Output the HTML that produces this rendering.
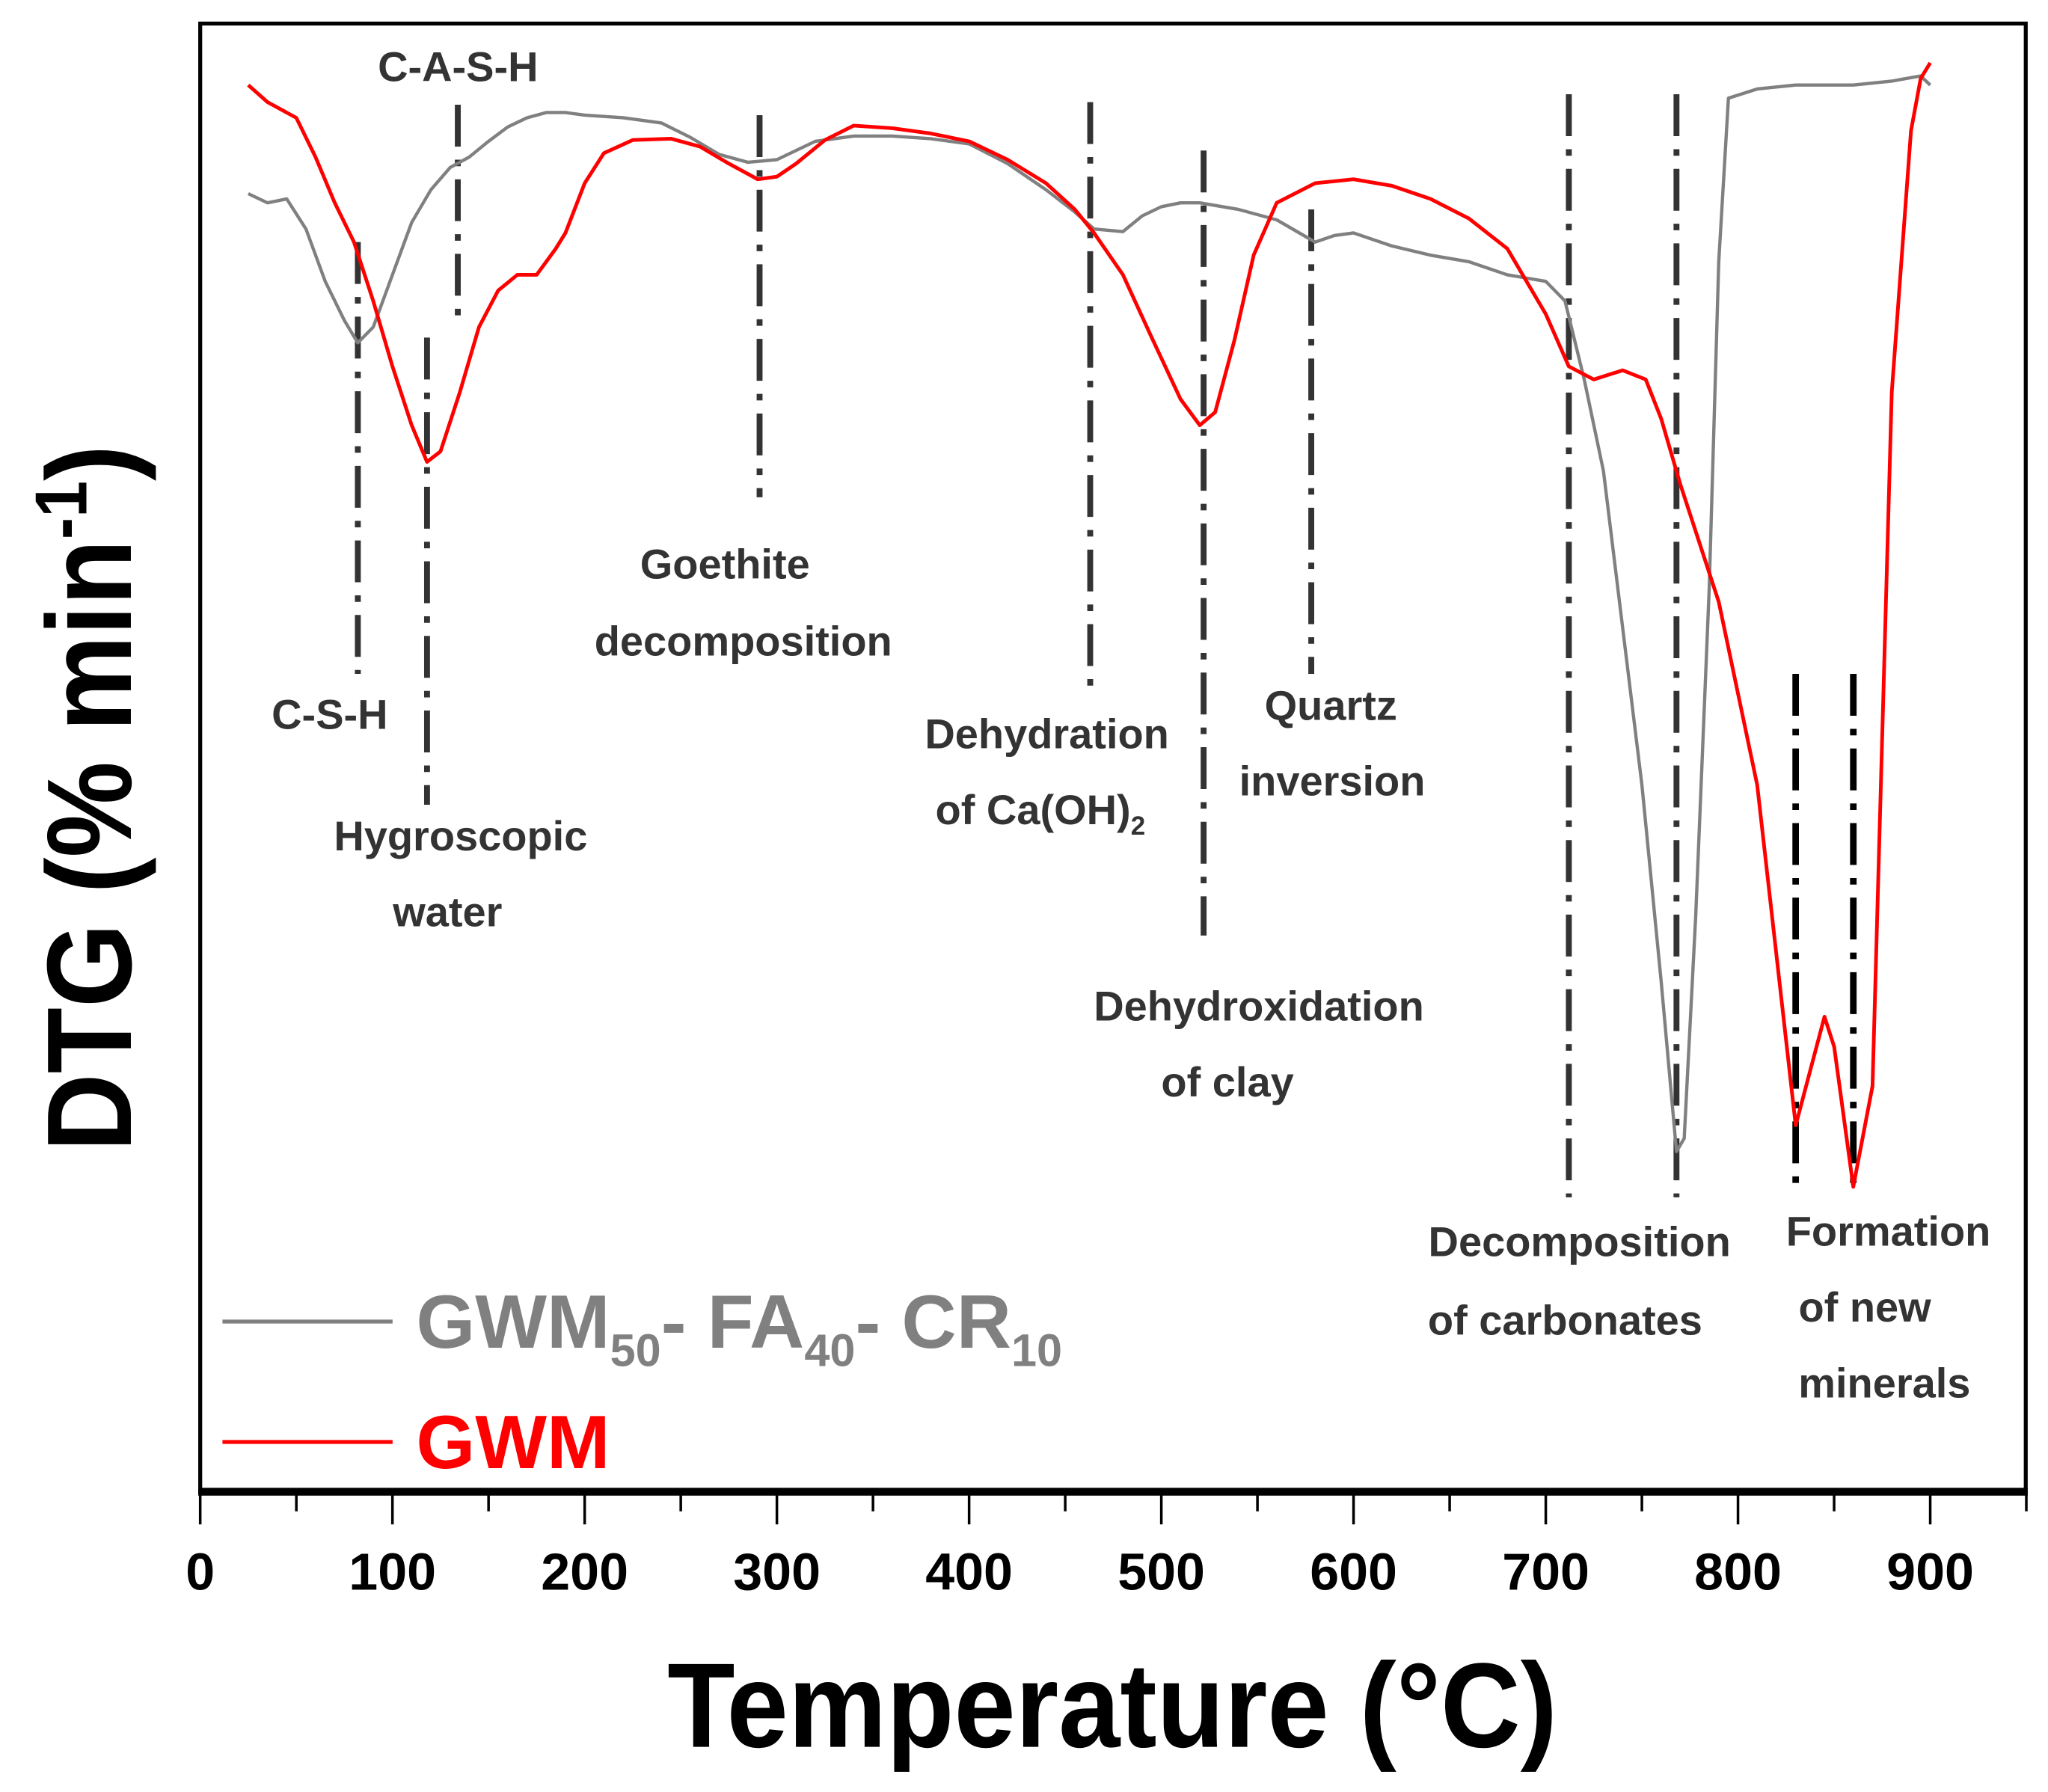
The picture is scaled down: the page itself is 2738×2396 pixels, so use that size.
<!DOCTYPE html>
<html><head><meta charset="utf-8"><style>
html,body{margin:0;padding:0;background:#fff}
svg{display:block}
text{font-family:"Liberation Sans",Arial,sans-serif;font-weight:bold}
</style></head><body>
<svg id="chart" width="2738" height="2396" viewBox="0 0 1565 1369.5" xmlns="http://www.w3.org/2000/svg">
<g id="plot"></g>
</svg>
<script>
const xTicks = [0,100,200,300,400,500,600,700,800,900];
const xMinor = [50,150,250,350,450,550,650,750,850,950];
const grayT = [25,35,45,55,65,75,82,90,100,110,120,130,140,150,160,170,180,190,200,220,240,255,270,285,300,320,340,360,380,400,420,440,455,465,480,490,500,510,520,540,560,580,590,600,620,640,660,680,700,710,720,730,740,750,760,768,772,778,785,790,795,810,830,860,880,895,900];
const grayV = [99.2,98.5,98.8,96.5,92.5,89.5,87.8,89,93,97,99.5,101.2,102,103.2,104.3,105,105.4,105.4,105.2,105,104.6,103.5,102.2,101.6,101.8,103.2,103.6,103.6,103.4,103,101.5,99.5,97.8,96.5,96.3,97.5,98.2,98.5,98.5,98,97.2,95.5,96,96.2,95.2,94.5,94,93,92.5,91,85,78,66,54,39,26,27,44,69,94,106.5,107.2,107.5,107.5,107.8,108.2,107.5];
const redT = [25,35,50,60,70,80,90,100,110,118,125,135,145,155,165,175,185,190,200,210,225,245,260,275,290,300,310,325,340,360,380,400,420,440,455,465,480,495,510,520,528,538,548,560,580,600,620,640,660,680,700,712,725,740,752,760,770,790,810,830,845,850,860,870,880,890,895,900];
const redV = [107.5,106.2,105,102,98.5,95.5,91,86,81.5,78.7,79.5,84,89,91.8,93,93,95,96.2,100,102.3,103.3,103.4,102.8,101.5,100.3,100.5,101.5,103.3,104.4,104.2,103.8,103.2,101.8,100,98,96.2,93,88.2,83.5,81.5,82.5,88,94.5,98.5,100,100.3,99.8,98.8,97.3,95,90,86,85,85.7,85,82,77,68,54,28,36.3,34,23.3,31,84,104,108,109.2];
const markerT = [82,118,134,291,463,522,578,712,768,830,860];
const markerTop = [95.5,88.2,106,105.2,106.2,102.5,98,106.8,106.8,62.5,62.5];
const markerBot = [62.5,52.5,89,76,61,42.5,62.5,22.5,22.5,23.5,23.5];

const L=153,R=1548,T=18,B=1140;
function xs(t){return 153 + t*(1475-153)/900;}
function ys(v){return B - v*10;}
const NS="http://www.w3.org/2000/svg";
const svg=document.getElementById('chart');
function mk(tag,attrs,parent){const e=document.createElementNS(NS,tag);for(const k in attrs)e.setAttribute(k,attrs[k]);(parent||svg).appendChild(e);return e;}

let fr=mk('rect',{x:L,y:T,width:R-L,height:B-T,fill:'none',stroke:'#000','stroke-width':3});


let xa=mk('line',{x1:L-1.5,y1:B,x2:R+1.5,y2:B,stroke:'#000','stroke-width':6});



xTicks.forEach(t=>{
  let l=mk('line',{x1:xs(t),y1:B,x2:xs(t),y2:B+25,stroke:'#000','stroke-width':2});
  
  
  let tx=mk('text',{x:xs(t),y:1215,'text-anchor':'middle','font-size':40,fill:'#000'});
  tx.textContent=t;
  
  
});
xMinor.forEach(t=>{
  let l=mk('line',{x1:xs(t),y1:B,x2:xs(t),y2:B+15,stroke:'#000','stroke-width':2});
  
  
});

markerT.forEach((t,i)=>{
  const dark = t>=830;
  let l=mk('line',{x1:xs(t),y1:ys(markerTop[i]),x2:xs(t),y2:ys(markerBot[i]),stroke:dark?'#000':'#333','stroke-width':dark?5:4.5,'stroke-dasharray':'32 10 5 10'});
  
  
});

function path(ts,vs,color,w,name){
  let d=ts.map((t,i)=>(i?'L':'M')+xs(t).toFixed(1)+' '+ys(vs[i]).toFixed(1)).join(' ');
  let p=mk('path',{d:d,fill:'none',stroke:color,'stroke-width':w,'stroke-linejoin':'round'});
  
  
}
path(grayT,grayV,'#808080',2.5,'gwm50-fa40-cr10-series');
path(redT,redV,'#ff0000',2.8,'gwm-series');

const ann=[
 ['C-A-S-H',350,62,'label-c-a-s-h'],
 ['C-S-H',252,557,'label-c-s-h'],
 ['Hygroscopic',352,650,'label-hygroscopic'],['water',342,708,'label-water'],
 ['Goethite',554,442,'label-goethite'],['decomposition',568,501,'label-goethite-decomposition'],
 ['Dehydration',800,572,'label-dehydration'],
 ['Quartz',1017,550,'label-quartz'],['inversion',1018,608,'label-inversion'],
 ['Dehydroxidation',962,780,'label-dehydroxidation'],['of clay',938,838,'label-of-clay'],
 ['Decomposition',1207,960,'label-decomposition'],['of carbonates',1196,1020,'label-of-carbonates'],
 ['Formation',1443,952,'label-formation'],['of new',1425,1010,'label-of-new'],['minerals',1440,1068,'label-minerals']
];
ann.forEach(a=>{
  let tx=mk('text',{x:a[1],y:a[2],'text-anchor':'middle','font-size':32,fill:'#333'});
  tx.textContent=a[0];
  
  
});
let ca=mk('text',{x:795,y:630,'text-anchor':'middle','font-size':32,fill:'#333'});
ca.innerHTML='of Ca(OH)<tspan font-size="20" dy="8">2</tspan>';



let lg1=mk('line',{x1:170,y1:1010,x2:300,y2:1010,stroke:'#808080','stroke-width':3});


let lt1=mk('text',{x:318,y:1030,'font-size':58,fill:'#808080'});
lt1.innerHTML='GWM<tspan font-size="35" dy="14">50</tspan><tspan dy="-14">- FA</tspan><tspan font-size="35" dy="14">40</tspan><tspan dy="-14">- CR</tspan><tspan font-size="35" dy="14">10</tspan>';


let lg2=mk('line',{x1:170,y1:1102,x2:300,y2:1102,stroke:'#ff0000','stroke-width':3});


let lt2=mk('text',{x:318,y:1122,'font-size':58,fill:'#ff0000'});
lt2.textContent='GWM';



let xt=mk('text',{x:850,y:1335,'text-anchor':'middle','font-size':92,fill:'#000',textLength:680,lengthAdjust:'spacingAndGlyphs'});
xt.textContent='Temperature (°C)';


let yt=mk('text',{x:0,y:0,'text-anchor':'middle','font-size':92,fill:'#000',transform:'translate(100,610) rotate(-90)',textLength:540,lengthAdjust:'spacingAndGlyphs'});
yt.innerHTML='DTG (% min<tspan font-size="56" dy="-34">-1</tspan><tspan dy="34">)</tspan>';


</script>
</body></html>
